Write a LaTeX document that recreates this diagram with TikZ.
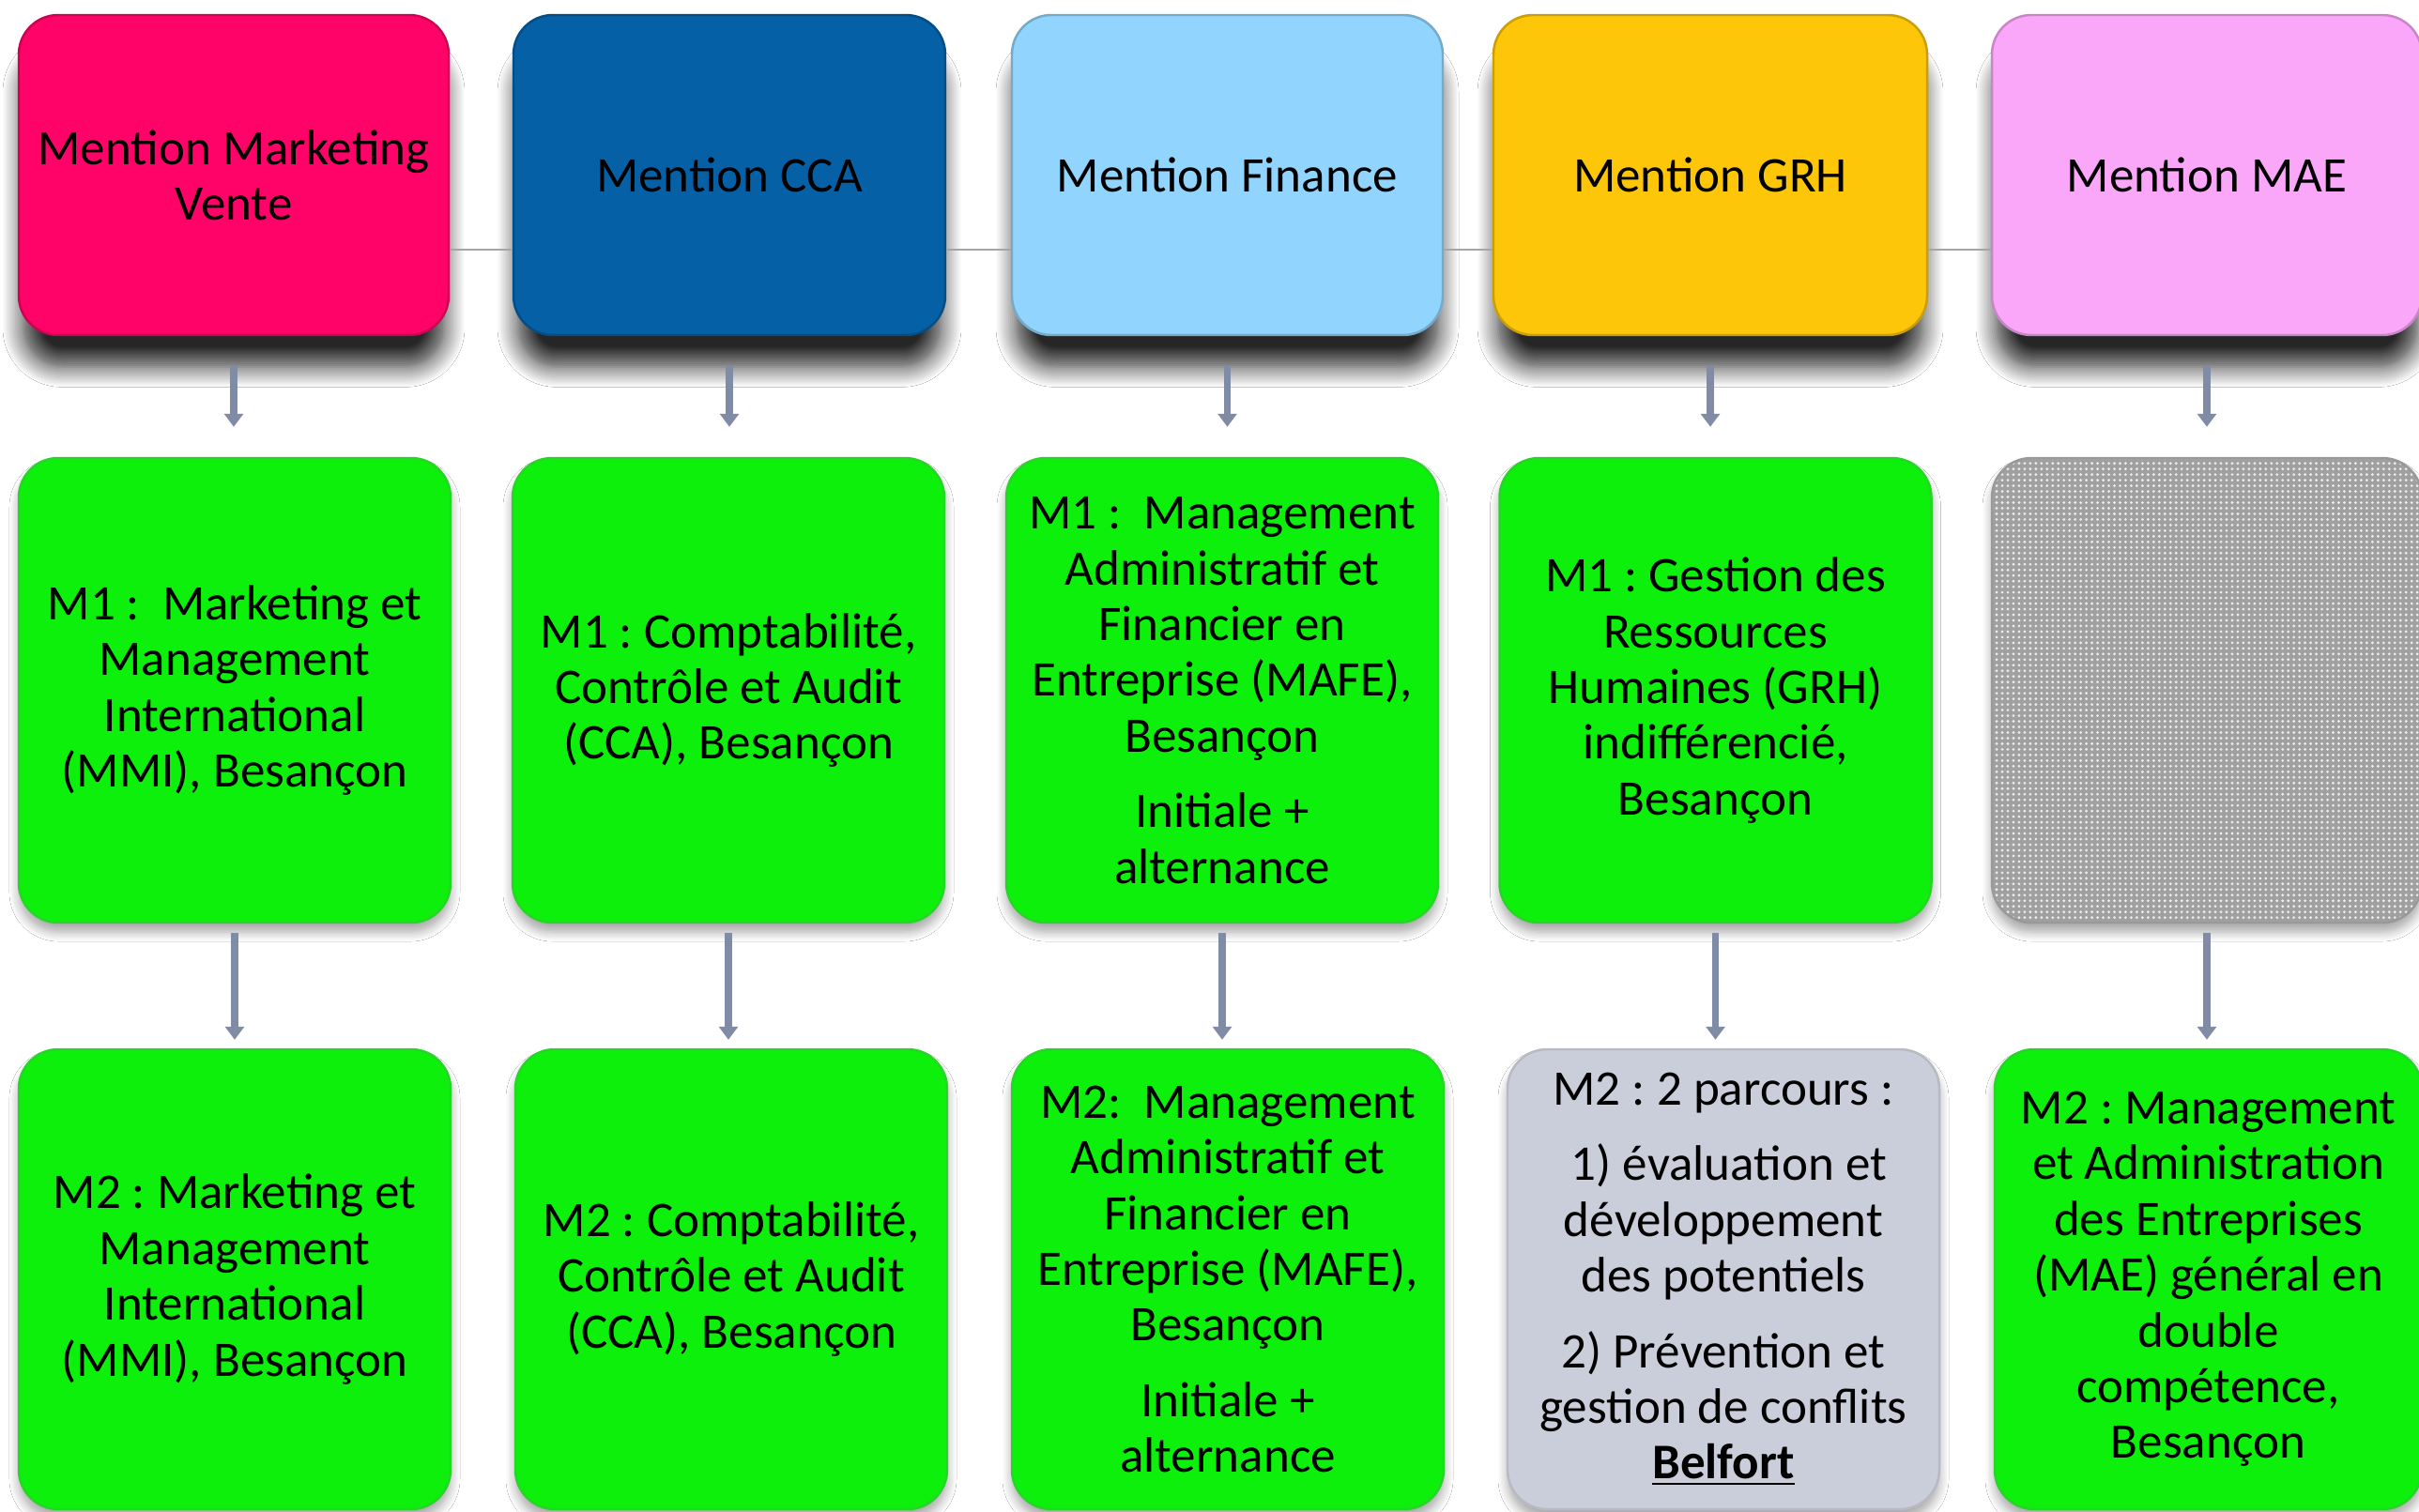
\documentclass[tikz,border=0pt]{standalone}
\usepackage{fontspec}
\setmainfont{Carlito}
\frenchspacing
\usetikzlibrary{shadows.blur,patterns.meta,arrows.meta}
\definecolor{cPink}{RGB}{255,3,104}
\definecolor{cBlue}{RGB}{5,96,166}
\definecolor{cSky}{RGB}{145,212,253}
\definecolor{cGold}{RGB}{253,198,8}
\definecolor{cLilac}{RGB}{250,167,250}
\definecolor{cGreen}{RGB}{12,240,12}
\definecolor{cGrey}{RGB}{201,206,218}
\definecolor{cPat}{RGB}{160,160,160}
\definecolor{cArrow}{RGB}{128,140,165}
\definecolor{cLine}{RGB}{165,165,165}
\begin{document}
\begin{tikzpicture}[
  box/.style={rectangle, rounded corners=0.42cm, minimum width=4.6cm, align=center,
    font=\fontsize{15.1}{16.9}\selectfont\frenchspacing, inner sep=0pt, line width=0.7pt},
  topbox/.style={box, minimum height=3.41cm,
    blur shadow={shadow xshift=0cm, shadow yshift=-0.38cm, shadow scale=0.98,
      shadow blur radius=0.22cm, shadow opacity=85, shadow blur steps=12}},
  midbox/.style={box, minimum height=4.95cm,
    blur shadow={shadow xshift=0cm, shadow yshift=-0.1cm, shadow blur radius=0.1cm,
      shadow opacity=35, shadow blur steps=8}},
  botbox/.style={box, minimum height=4.90cm,
    blur shadow={shadow xshift=0cm, shadow yshift=-0.1cm, shadow blur radius=0.1cm,
      shadow opacity=35, shadow blur steps=8}},
  greenbox/.style={fill=cGreen, draw=cGreen!75!gray},
  arr/.style={draw=cArrow, line width=0.075cm, -{Triangle[width=0.2cm,length=0.14cm]}},
  hline/.style={draw=cLine, line width=0.02cm}
]
\useasboundingbox (0,0) rectangle (25.77,-16.11);
\fill[white] (0,0) rectangle (25.77,-16.11);

% top row
\node[topbox, fill=cPink, draw=cPink!80!black, minimum width=4.58cm] (t1) at (2.49,-1.865) {Mention Marketing\\Vente};
\node[topbox, fill=cBlue, draw=cBlue!80!black, minimum width=4.60cm] (t2) at (7.77,-1.865) {Mention CCA};
\node[topbox, fill=cSky, draw=cSky!80!black, minimum width=4.59cm] (t3) at (13.075,-1.865) {Mention Finance};
\node[topbox, fill=cGold, draw=cGold!80!black, minimum width=4.62cm] (t4) at (18.22,-1.865) {Mention GRH};
\node[topbox, fill=cLilac, draw=cLilac!80!black, minimum width=4.58cm] (t5) at (23.51,-1.865) {Mention MAE};

% middle row
\node[midbox, greenbox] (m1) at (2.50,-7.355) {M1 :~ Marketing et\\Management\\International\\(MMI), Besançon};
\node[midbox, greenbox] (m2) at (7.76,-7.355) {M1 : Comptabilité,\\Contrôle et Audit\\(CCA), Besançon};
\node[midbox, greenbox] (m3) at (13.02,-7.355) {M1 :~ Management\\Administratif et\\Financier en\\Entreprise (MAFE),\\Besançon\\[6pt]Initiale +\\alternance};
\node[midbox, greenbox] (m4) at (18.275,-7.355) {M1 : Gestion des\\Ressources\\Humaines (GRH)\\indifférencié,\\Besançon};
\node[midbox, draw=gray!80, preaction={fill=cPat}, pattern={Dots[distance=1.7pt, radius=0.45pt]}, pattern color=white!85!gray, minimum width=4.58cm] (m5) at (23.51,-7.355) {};

% bottom row
\node[botbox, greenbox] (b1) at (2.50,-13.63) {M2 : Marketing et\\Management\\International\\(MMI), Besançon};
\node[botbox, greenbox] (b2) at (7.79,-13.63) {M2 : Comptabilité,\\Contrôle et Audit\\(CCA), Besançon};
\node[botbox, greenbox] (b3) at (13.08,-13.63) {M2:~ Management\\Administratif et\\Financier en\\Entreprise (MAFE),\\Besançon\\[6pt]Initiale +\\alternance};
\node[botbox, fill=cGrey, draw=cGrey!75!gray] (b4) at (18.36,-13.63) {M2 : 2 parcours :\\[6pt]~1) évaluation et\\développement\\des potentiels\\[6pt]2) Prévention et\\gestion de conflits\\\textbf{\underline{Belfort}}};
\node[botbox, greenbox, minimum width=4.55cm] (b5) at (23.525,-13.63) {M2 : Management\\et Administration\\des Entreprises\\(MAE) général en\\double\\compétence,\\Besançon};

% horizontal line between top boxes
\foreach \a/\b in {t1/t2,t2/t3,t3/t4,t4/t5}
  \draw[hline] ([yshift=-0.795cm]\a.east) -- ([yshift=-0.795cm]\b.west);

% arrows
\foreach \i in {1,...,5} {
  \draw[arr, shorten <=0.32cm, shorten >=0.32cm] (t\i.south) -- (t\i.south |- m\i.north);
  \draw[arr, shorten <=0.1cm, shorten >=0.09cm] (m\i.south) -- (m\i.south |- b\i.north);
}
\end{tikzpicture}
\end{document}
